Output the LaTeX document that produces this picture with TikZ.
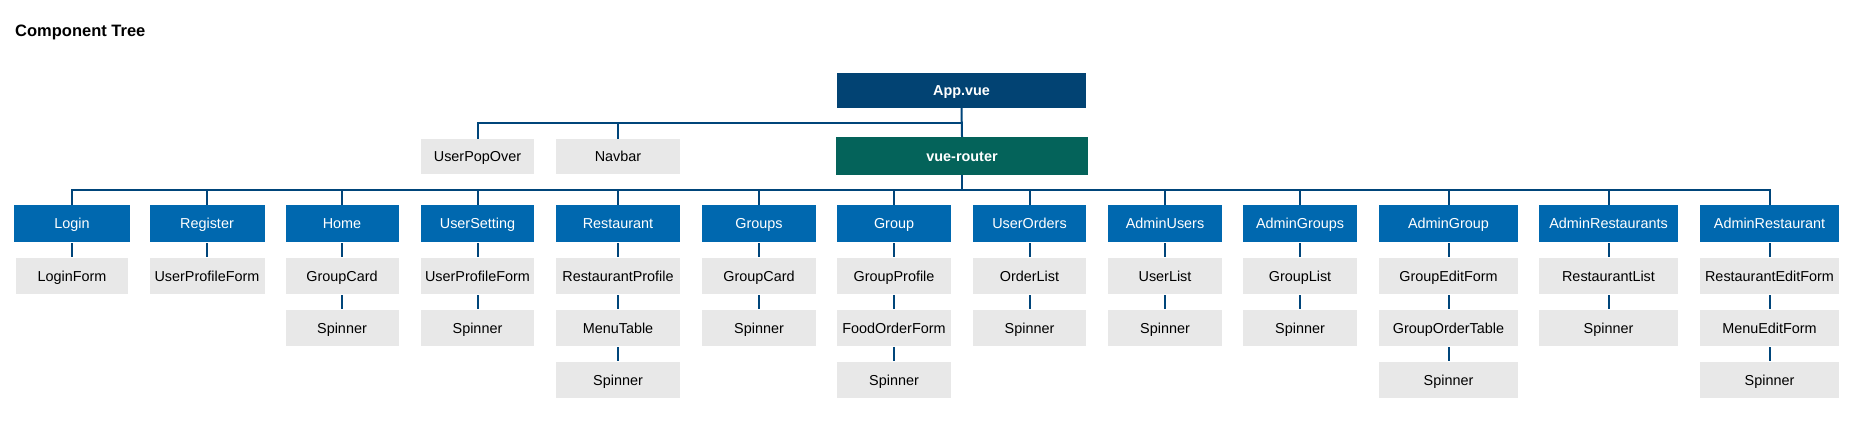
\documentclass[tikz,border=0pt]{standalone}
\usepackage{fontspec}
\setmainfont{Liberation Sans}
\definecolor{cnavy}{RGB}{2,67,115}
\definecolor{cteal}{RGB}{4,99,90}
\definecolor{cblue}{RGB}{0,104,175}
\definecolor{cgray}{RGB}{232,232,232}
\definecolor{cline}{RGB}{0,69,122}
\tikzset{
  basebox/.style={inner sep=0pt, text height=10.3pt, text depth=0pt, font=\fontsize{14.4}{16}\selectfont},
  parentbox/.style={basebox, fill=cblue, text=white, minimum height=37pt},
  leafbox/.style={basebox, fill=cgray, text=black, minimum height=36pt},
  rootbox/.style={basebox, text=white, font=\bfseries\fontsize{14.4}{16}\selectfont},
  link/.style={draw=cline, line width=2pt}
}
\begin{document}
\begin{tikzpicture}[x=1pt,y=-1pt]
\useasboundingbox (0,0) rectangle (1859,445);
\node[anchor=base west, inner sep=0pt, font=\bfseries\fontsize{16.5}{19}\selectfont] (title) at (15,36.5) {Component Tree};
\coordinate (uby) at (0,122.5);
\coordinate (busy) at (0,190);
% root
\node[rootbox, fill=cnavy, minimum width=249pt, minimum height=35pt] (app) at (961.5,90.5) {App.vue};
\node[rootbox, fill=cteal, minimum width=252pt, minimum height=38pt] (router) at (962,156) {vue-router};
\node[leafbox, minimum width=113pt, minimum height=35pt] (userpop) at (477.5,156.5) {UserPopOver};
\node[leafbox, minimum width=124pt, minimum height=35pt] (navbar) at (618,156.5) {Navbar};
% top row
\node[parentbox, minimum width=116pt] (login) at (72,223.5) {Login};
\node[parentbox, minimum width=115pt] (register) at (207,223.5) {Register};
\node[parentbox, minimum width=113pt] (home) at (342,223.5) {Home};
\node[parentbox, minimum width=113pt] (usersetting) at (477.5,223.5) {UserSetting};
\node[parentbox, minimum width=124pt] (restaurant) at (618,223.5) {Restaurant};
\node[parentbox, minimum width=114pt] (groups) at (759,223.5) {Groups};
\node[parentbox, minimum width=114pt] (group) at (894,223.5) {Group};
\node[parentbox, minimum width=113pt] (userorders) at (1029.5,223.5) {UserOrders};
\node[parentbox, minimum width=114pt] (adminusers) at (1165,223.5) {AdminUsers};
\node[parentbox, minimum width=114pt] (admingroups) at (1300,223.5) {AdminGroups};
\node[parentbox, minimum width=139pt] (admingroup) at (1448.5,223.5) {AdminGroup};
\node[parentbox, minimum width=139pt] (adminrests) at (1608.5,223.5) {AdminRestaurants};
\node[parentbox, minimum width=139pt] (adminrest) at (1769.5,223.5) {AdminRestaurant};
% row 1
\node[leafbox, minimum width=112pt] (loginform) at (72,276) {LoginForm};
\node[leafbox, minimum width=115pt] (regform) at (207,276) {UserProfileForm};
\node[leafbox, minimum width=113pt] (homecard) at (342,276) {GroupCard};
\node[leafbox, minimum width=113pt] (setform) at (477.5,276) {UserProfileForm};
\node[leafbox, minimum width=124pt] (restprofile) at (618,276) {RestaurantProfile};
\node[leafbox, minimum width=114pt] (groupscard) at (759,276) {GroupCard};
\node[leafbox, minimum width=114pt] (groupprofile) at (894,276) {GroupProfile};
\node[leafbox, minimum width=113pt] (orderlist) at (1029.5,276) {OrderList};
\node[leafbox, minimum width=114pt] (userlist) at (1165,276) {UserList};
\node[leafbox, minimum width=114pt] (grouplist) at (1300,276) {GroupList};
\node[leafbox, minimum width=139pt] (groupedit) at (1448.5,276) {GroupEditForm};
\node[leafbox, minimum width=139pt] (restlist) at (1608.5,276) {RestaurantList};
\node[leafbox, minimum width=139pt] (restedit) at (1769.5,276) {RestaurantEditForm};
% row 2
\node[leafbox, minimum width=113pt] (homespin) at (342,328) {Spinner};
\node[leafbox, minimum width=113pt] (setspin) at (477.5,328) {Spinner};
\node[leafbox, minimum width=124pt] (menutable) at (618,328) {MenuTable};
\node[leafbox, minimum width=114pt] (groupsspin) at (759,328) {Spinner};
\node[leafbox, minimum width=114pt] (foodorder) at (894,328) {FoodOrderForm};
\node[leafbox, minimum width=113pt] (ordersspin) at (1029.5,328) {Spinner};
\node[leafbox, minimum width=114pt] (usersspin) at (1165,328) {Spinner};
\node[leafbox, minimum width=114pt] (agroupsspin) at (1300,328) {Spinner};
\node[leafbox, minimum width=139pt] (grouporder) at (1448.5,328) {GroupOrderTable};
\node[leafbox, minimum width=139pt] (arestsspin) at (1608.5,328) {Spinner};
\node[leafbox, minimum width=139pt] (menuedit) at (1769.5,328) {MenuEditForm};
% row 3
\node[leafbox, minimum width=124pt] (restspin) at (618,380) {Spinner};
\node[leafbox, minimum width=114pt] (groupspin) at (894,380) {Spinner};
\node[leafbox, minimum width=139pt] (agroupspin) at (1448.5,380) {Spinner};
\node[leafbox, minimum width=139pt] (arestspin) at (1769.5,380) {Spinner};
% upper connectors
\draw[link] (app.south) -- (router.north);
\draw[link] (userpop.north) -- (userpop.north |- uby) -- (app.south |- uby);
\draw[link] (navbar.north) -- (navbar.north |- uby);
% main bus
\draw[link] (router.south) -- (router.south |- busy);
\draw[link] (login.north) -- (login.north |- busy) -- (adminrest.north |- busy) -- (adminrest.north);
\foreach \n in {register,home,usersetting,restaurant,groups,group,userorders,adminusers,admingroups,admingroup,adminrests}
  \draw[link] (\n.north) -- (\n.north |- busy);
% children
\foreach \a/\b in {login/loginform,register/regform,home/homecard,homecard/homespin,usersetting/setform,setform/setspin,restaurant/restprofile,restprofile/menutable,menutable/restspin,groups/groupscard,groupscard/groupsspin,group/groupprofile,groupprofile/foodorder,foodorder/groupspin,userorders/orderlist,orderlist/ordersspin,adminusers/userlist,userlist/usersspin,admingroups/grouplist,grouplist/agroupsspin,admingroup/groupedit,groupedit/grouporder,grouporder/agroupspin,adminrests/restlist,restlist/arestsspin,adminrest/restedit,restedit/menuedit,menuedit/arestspin}
  \draw[link] ([yshift=-1pt]\a.south) -- ([yshift=1pt]\b.north);
\end{tikzpicture}
\end{document}
